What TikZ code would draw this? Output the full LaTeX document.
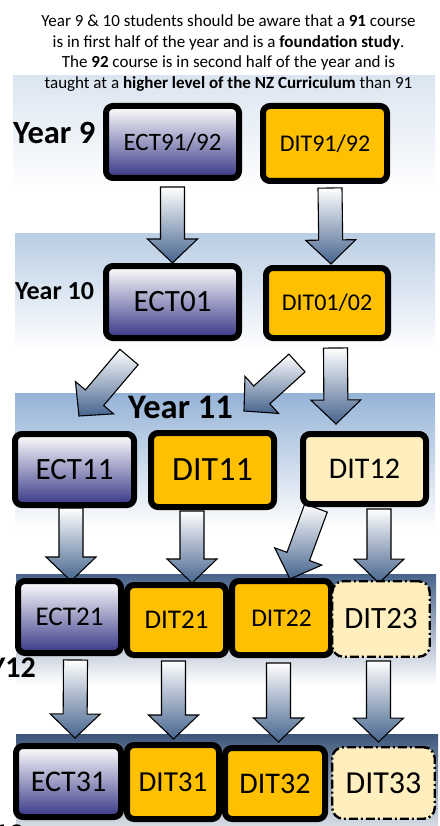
\documentclass[tikz,border=0pt]{standalone}
\usepackage{fontspec}
\setmainfont{Carlito}
\usetikzlibrary{calc}

\definecolor{ectdark}{RGB}{55,55,135}
\definecolor{ditorange}{RGB}{255,192,0}
\definecolor{ditcream}{RGB}{255,238,190}
\definecolor{arrowdark}{RGB}{70,100,142}
\definecolor{bandA}{RGB}{219,229,241}
\definecolor{bandB}{RGB}{185,205,228}
\definecolor{bandC}{RGB}{149,179,215}
\definecolor{bandD}{RGB}{72,100,140}
\definecolor{bandE}{RGB}{60,86,122}

\pgfdeclarelayer{background}
\pgfsetlayers{background,main}

\tikzset{
  course/.style={rectangle, rounded corners=7pt, line width=6pt, draw=black, inner sep=0pt},
  ectbox/.style={course, top color=white, bottom color=ectdark},
  ditbox/.style={course, fill=ditorange},
  optbox/.style={course, fill=ditcream},
  dashbox/.style={rectangle, rounded corners=11pt, draw=black, line width=2.4pt,
    dash pattern=on 9pt off 3pt on 2pt off 3pt, fill=ditcream, inner sep=0pt},
  barrow/.style={draw=black, line width=1.1pt, line join=miter, top color=white, bottom color=arrowdark},
  yearlbl/.style={inner sep=0pt},
  notelbl/.style={inner sep=0pt, anchor=base, font=\fontsize{17}{20}\selectfont},
}

% block arrow from a tail point to a tip point
\newcommand\blockarrow[2]{%
  \coordinate (ah) at ($(#2)!24pt!(#1)$);
  \draw[barrow] ($(#1)!12pt!-90:(#2)$) -- ($(ah)!12pt!90:(#1)$) -- ($(ah)!25pt!90:(#1)$)
    -- (#2) -- ($(ah)!25pt!-90:(#1)$) -- ($(ah)!12pt!-90:(#1)$) -- ($(#1)!12pt!90:(#2)$) -- cycle;
}
\newcommand\fs[1]{\fontsize{#1}{#1}\selectfont}

\begin{document}
\begin{tikzpicture}[x=1pt,y=-1pt]
\useasboundingbox (0,0) rectangle (439,826);

% note at the top
\node[notelbl] (n1) at (228.5,27) {Year 9 \& 10 students should be aware that a \textbf{91} course};
\node[notelbl] (n2) at (228.5,47.5) {is in first half of the year and is a \textbf{foundation study}.};
\node[notelbl] (n3) at (228.5,68) {The \textbf{92} course is in second half of the year and is};
\node[notelbl] (n4) at (228.5,88.5) {taught at a \textbf{higher level of the NZ Curriculum} than 91};

% year labels
\node[yearlbl, anchor=west] (y9) at (13,133) {\fs{32.5}\bfseries Year 9};
\node[yearlbl, anchor=west] (y10) at (15,291) {\fs{26}\bfseries Year 10};
\node[yearlbl, anchor=west] (y11) at (128,407) {\fs{34.5}\bfseries Year 11};
\node[yearlbl, anchor=east] (y12) at (36,668) {\fs{30}\bfseries Y12};
\node[yearlbl, anchor=east] (y13) at (24,835) {\fs{30}\bfseries Y13};

% course boxes
\node[ectbox, minimum width=133pt, minimum height=72pt] (ect9) at (172.5,142) {\fs{25}ECT91/92};
\node[ditbox, minimum width=124pt, minimum height=75pt] (dit9) at (325,143.5) {\fs{24}DIT91/92};
\node[ectbox, minimum width=133pt, minimum height=72pt] (ect10) at (172.5,302) {\fs{31}ECT01};
\node[ditbox, minimum width=122pt, minimum height=70pt] (dit10) at (327,303) {\fs{24}DIT01/02};

\node[ectbox, minimum width=119pt, minimum height=71pt] (ect11) at (74.5,469.5) {\fs{31}ECT11};
\node[ditbox, minimum width=123pt, minimum height=74pt] (dit11) at (212.5,470) {\fs{34}DIT11};
\node[optbox, minimum width=123pt, minimum height=70pt] (dit12) at (364.5,469) {\fs{30}DIT12};

\node[ectbox, minimum width=103pt, minimum height=72pt] (ect21) at (69.5,617) {\fs{27}ECT21};
\node[ditbox, minimum width=99pt, minimum height=70pt] (dit21) at (176.5,620) {\fs{27}DIT21};
\node[ditbox, minimum width=99pt, minimum height=74pt] (dit22) at (281.5,618) {\fs{25.5}DIT22};
\node[dashbox, minimum width=97.5pt, minimum height=75.5pt] (dit23) at (381,619) {\fs{31}DIT23};

\node[ectbox, minimum width=105pt, minimum height=71pt] (ect31) at (68.5,781.5) {\fs{30}ECT31};
\node[ditbox, minimum width=92pt, minimum height=74pt] (dit31) at (173,782) {\fs{29}DIT31};
\node[ditbox, minimum width=100pt, minimum height=71pt] (dit32) at (275,783.5) {\fs{30}DIT32};
\node[dashbox, minimum width=102.5pt, minimum height=71.5pt] (dit33) at (383.5,783) {\fs{32}DIT33};

% arrow ends
\coordinate (a1s) at ($(ect9.south)+(0,6)$);    \coordinate (a1e) at (ect10.north);
\coordinate (a2s) at ($(dit9.south)+(5,4)$);    \coordinate (a2e) at ($(dit10.north)+(4,-1)$);
\coordinate (a3s) at ($(ect10.south)+(-43.5,16)$); \coordinate (a3e) at ($(ect11.north)+(4.5,-15)$);
\coordinate (a4s) at ($(dit10.south)+(-30,22)$); \coordinate (a4e) at ($(dit11.north)+(31.5,-19)$);
\coordinate (a5s) at ($(dit10.south)+(8.5,7)$);  \coordinate (a5e) at ($(dit12.north)+(-28.5,-7)$);
\coordinate (a6s) at ($(ect11.south)+(-3.5,0)$); \coordinate (a6e) at ($(ect21.north)+(1.5,3)$);
\coordinate (a7s) at ($(dit11.south)+(-20.5,1)$); \coordinate (a7e) at ($(dit21.north)+(15.5,1)$);
\coordinate (a8s) at ($(dit12.south)+(-48.5,1)$); \coordinate (a8e) at ($(dit22.north)+(8.5,1)$);
\coordinate (a9s) at ($(dit12.south)+(14.5,2)$); \coordinate (a9e) at ($(dit23.north)+(-2,3)$);
\coordinate (a10s) at ($(ect21.south)+(6,4)$);  \coordinate (a10e) at ($(ect31.north)+(6.5,-5)$);
\coordinate (a11s) at ($(dit21.south)+(-3,3)$); \coordinate (a11e) at ($(dit31.north)+(0.5,-3)$);
\coordinate (a12s) at ($(dit22.south)+(-3,5)$); \coordinate (a12e) at ($(dit32.north)+(3.5,-3)$);
\coordinate (a13s) at ($(dit23.south)+(-2.5,3)$); \coordinate (a13e) at ($(dit33.north)+(-5,-4)$);

\begin{pgfonlayer}{background}
  % year bands
  \shade[top color=bandA, bottom color=white] (13,76) rectangle (435,190);
  \shade[top color=bandB, bottom color=white] (15,233) rectangle (435,350);
  \shade[top color=bandC, bottom color=white] (15,393) rectangle (435,530);
  \shade[top color=bandD, bottom color=white] (16,574) rectangle (436,685);
  \shade[top color=bandE, bottom color=white] (16,734) rectangle (438,850);
  % progression arrows
  \blockarrow{a1s}{a1e}
  \blockarrow{a2s}{a2e}
  \blockarrow{a3s}{a3e}
  \blockarrow{a4s}{a4e}
  \blockarrow{a5s}{a5e}
  \blockarrow{a6s}{a6e}
  \blockarrow{a7s}{a7e}
  \blockarrow{a8s}{a8e}
  \blockarrow{a9s}{a9e}
  \blockarrow{a10s}{a10e}
  \blockarrow{a11s}{a11e}
  \blockarrow{a12s}{a12e}
  \blockarrow{a13s}{a13e}
\end{pgfonlayer}
\end{tikzpicture}
\end{document}
